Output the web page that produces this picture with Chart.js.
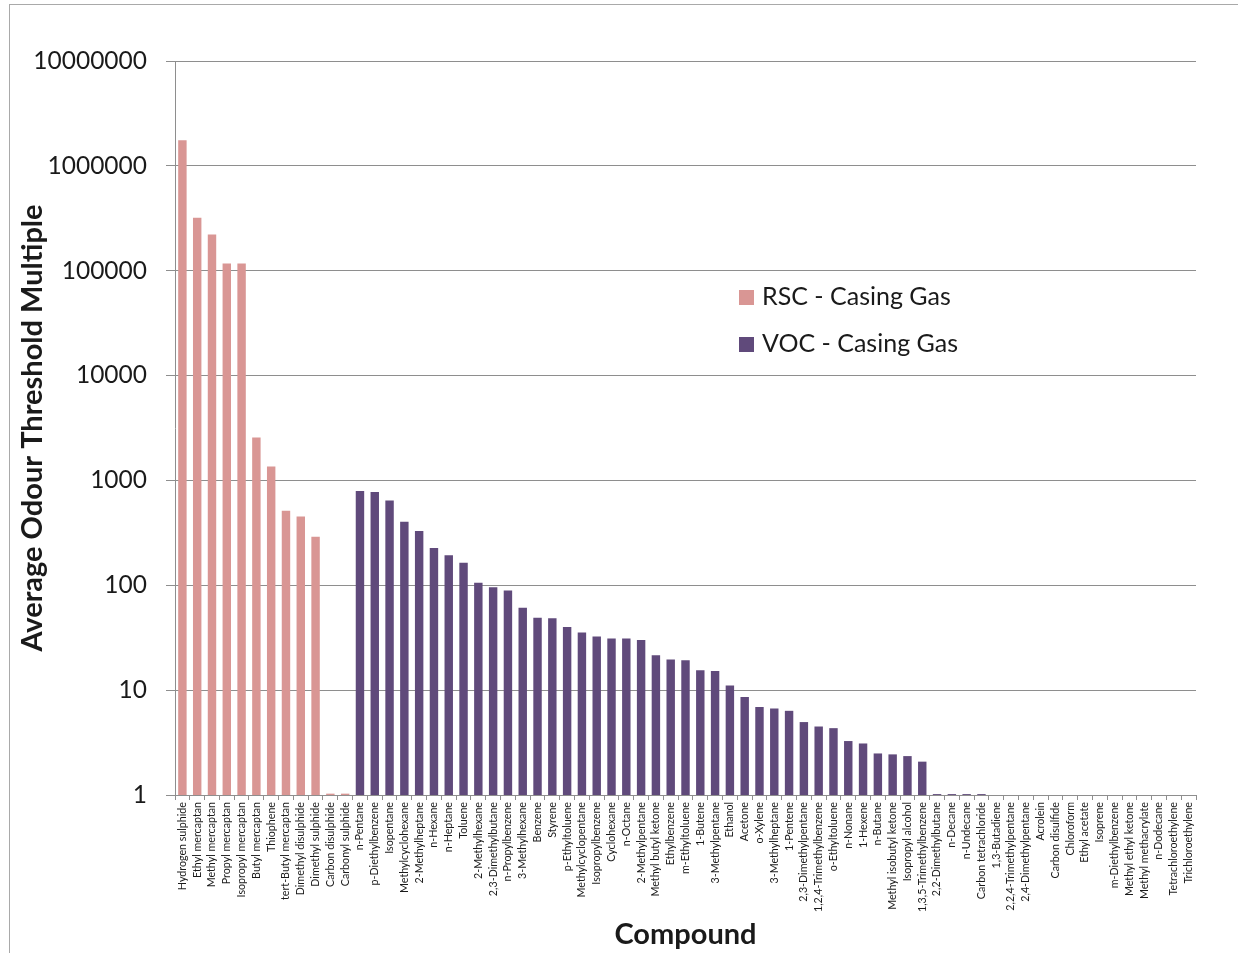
<!DOCTYPE html>
<html>
<head>
<meta charset="utf-8">
<script src="https://cdn.jsdelivr.net/npm/chart.js@4/dist/chart.umd.min.js"></script>
<style>
  html, body { margin: 0; padding: 0; background: #ffffff; }
  #wrap { position: relative; width: 1238px; height: 953px; overflow: hidden; }
  #frame { position: absolute; left: 9px; top: 4px; width: 1260px; height: 980px;
           border-left: 1px solid #a9a9a9; border-top: 1px solid #a9a9a9; box-sizing: border-box; }
  canvas { position: absolute; left: 0; top: 0; }
</style>
</head>
<body>
<div id="wrap">
  <div id="frame"></div>
  <canvas id="chart" width="1238" height="953"></canvas>
</div>
<script>
// Compounds, reduced sulphur compounds first, then volatile organic compounds
const categories = [
  "Hydrogen sulphide", "Ethyl mercaptan", "Methyl mercaptan", "Propyl mercaptan",
  "Isopropyl mercaptan", "Butyl mercaptan", "Thiophene", "tert-Butyl mercaptan",
  "Dimethyl disulphide", "Dimethyl sulphide", "Carbon disulphide", "Carbonyl sulphide",
  "n-Pentane", "p-Diethylbenzene", "Isopentane", "Methylcyclohexane", "2-Methylheptane",
  "n-Hexane", "n-Heptane", "Toluene", "2-Methylhexane", "2,3-Dimethylbutane",
  "n-Propylbenzene", "3-Methylhexane", "Benzene", "Styrene", "p-Ethyltoluene",
  "Methylcyclopentane", "Isopropylbenzene", "Cyclohexane", "n-Octane", "2-Methylpentane",
  "Methyl butyl ketone", "Ethylbenzene", "m-Ethyltoluene", "1-Butene", "3-Methylpentane",
  "Ethanol", "Acetone", "o-Xylene", "3-Methylheptane", "1-Pentene", "2,3-Dimethylpentane",
  "1,2,4-Trimethylbenzene", "o-Ethyltoluene", "n-Nonane", "1-Hexene", "n-Butane",
  "Methyl isobutyl ketone", "Isopropyl alcohol", "1,3,5-Trimethylbenzene",
  "2,2-Dimethylbutane", "n-Decane", "n-Undecane", "Carbon tetrachloride", "1,3-Butadiene",
  "2,2,4-Trimethylpentane", "2,4-Dimethylpentane", "Acrolein", "Carbon disulfide",
  "Chloroform", "Ethyl acetate", "Isoprene", "m-Diethylbenzene", "Methyl ethyl ketone",
  "Methyl methacrylate", "n-Dodecane", "Tetrachloroethylene", "Trichloroethylene"
];

// RSC - Casing Gas (first 12 compounds)
const rscValues = [1750000, 320000, 221000, 117000, 117000, 2570, 1355, 514, 452, 291, 1.03, 1.03];

// VOC - Casing Gas (remaining 57 compounds)
const vocValues = [
  791, 774, 645, 404, 329, 227, 193, 164, 106, 96, 89, 61, 49, 48.5, 40,
  35.4, 32.5, 31, 31, 30, 21.5, 19.6, 19.3, 15.5, 15.2, 11.1, 8.6, 6.9, 6.7, 6.35,
  4.96, 4.5, 4.34, 3.27, 3.1, 2.49, 2.44, 2.35, 2.08,
  1.02, 1.02, 1.02, 1.02, 1, 1, 1, 1, 1, 1, 1, 1, 1, 1, 1, 1, 1, 1
];

// Decade tick values for the logarithmic axis
const yTicks = [1, 10, 100, 1000, 10000, 100000, 1000000, 10000000];

const seriesNames = ["RSC - Casing Gas", "VOC - Casing Gas"];
const seriesColors = ["#D99694", "#604A7B"];

const rscData = categories.map((c, i) => i < rscValues.length ? rscValues[i] : null);
const vocData = categories.map((c, i) => i >= rscValues.length ? vocValues[i - rscValues.length] : null);

const FONT = "Lato, 'Open Sans', sans-serif";

// Legend drawn inside the plot area
const innerLegend = {
  id: 'innerLegend',
  afterDatasetsDraw(chart) {
    const ctx = chart.ctx;
    const x = 739, ys = [297, 344];
    ctx.save();
    ctx.font = "25px " + FONT;
    ctx.textBaseline = 'middle';
    ctx.textAlign = 'left';
    chart.data.datasets.forEach((ds, i) => {
      ctx.fillStyle = ds.backgroundColor;
      ctx.fillRect(x, ys[i] - 7, 15, 15);
      ctx.fillStyle = '#1a1a1a';
      ctx.fillText(ds.label, x + 23, ys[i]);
    });
    ctx.restore();
  }
};

new Chart(document.getElementById('chart'), {
  type: 'bar',
  data: {
    labels: categories,
    datasets: [
      { label: seriesNames[0], data: rscData, backgroundColor: seriesColors[0] },
      { label: seriesNames[1], data: vocData, backgroundColor: seriesColors[1] }
    ]
  },
  options: {
    responsive: false,
    animation: false,
    events: [],
    layout: { padding: { left: 10, top: 61, right: 42, bottom: 0 } },
    datasets: { bar: { grouped: false, barPercentage: 0.57, categoryPercentage: 1.0 } },
    plugins: {
      legend: { display: false },
      tooltip: { enabled: false }
    },
    scales: {
      x: {
        offset: true,
        afterFit(scale) { scale.height = 158; },
        grid: { display: true, drawOnChartArea: false, drawTicks: true, tickLength: 5,
                color: '#8e8e8e', offset: true },
        border: { display: true, color: '#8e8e8e', width: 1 },
        ticks: {
          autoSkip: false, minRotation: 90, maxRotation: 90, padding: 2,
          color: '#1a1a1a', font: { family: FONT, size: 10.7 }
        },
        title: {
          display: true, text: 'Compound', color: '#1a1a1a',
          font: { family: FONT, size: 29, weight: 'bold', lineHeight: 1.2 },
          padding: { top: 0, bottom: 1 }
        }
      },
      y: {
        type: 'logarithmic',
        min: 1, max: 10000000,
        afterFit(scale) { scale.width = 165; },
        afterBuildTicks(scale) { scale.ticks = yTicks.map(v => ({ value: v })); },
        grid: { color: '#8e8e8e', lineWidth: 1, drawTicks: true, tickLength: 9 },
        border: { display: true, color: '#8e8e8e', width: 1 },
        ticks: {
          padding: 19, color: '#1a1a1a',
          font: { family: FONT, size: 24.5 },
          callback: (v) => Number(v).toFixed(0)
        },
        title: {
          display: true, text: 'Average Odour Threshold Multiple', color: '#1a1a1a',
          font: { family: FONT, size: 29, weight: 'bold', lineHeight: 1.2 },
          padding: { top: 5, bottom: 0 }
        }
      }
    }
  },
  plugins: [innerLegend]
});
</script>
</body>
</html>
